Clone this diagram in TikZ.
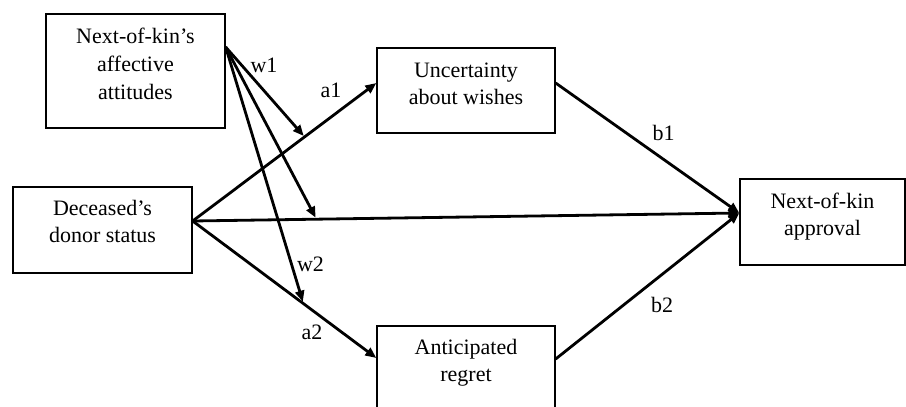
\documentclass[tikz,border=0pt]{standalone}
\usepackage{fontspec}
\setmainfont{Liberation Serif}
\usetikzlibrary{arrows.meta,calc}
\begin{document}
\begin{tikzpicture}[x=1pt,y=-1pt,
  box/.style={draw,line width=1.3pt,inner sep=0pt},
  txt/.style={font=\fontsize{22}{27}\selectfont,align=center,inner sep=0pt,anchor=north},
  lbl/.style={font=\fontsize{22}{27}\selectfont,inner sep=0pt,anchor=base},
  arr/.style={line width=2.8pt,-{Triangle[length=11pt,width=9pt]}}
]
\useasboundingbox (0,0) rectangle (906,407);
\clip (0,0) rectangle (906,407);
% boxes
\node[box,minimum width=179pt,minimum height=114pt] (att) at (135.5,71) {};
\node[box,minimum width=179pt,minimum height=86pt] (don) at (102.5,230) {};
\node[box,minimum width=178pt,minimum height=85pt] (unc) at (466,90.5) {};
\node[box,minimum width=178pt,minimum height=86pt] (reg) at (466,369) {};
\node[box,minimum width=165pt,minimum height=86pt] (app) at (822.5,222) {};
% texts
\node[txt,font=\fontsize{22}{28}\selectfont] (atttxt) at ($(att.north)+(0,14)$) {Next-of-kin’s\\affective\\attitudes};
\node[txt] (dontxt) at ($(don.north)+(0,14)$) {Deceased’s\\donor status};
\node[txt] (unctxt) at ($(unc.north)+(0,15)$) {Uncertainty\\about wishes};
\node[txt] (regtxt) at ($(reg.north)+(0,14)$) {Anticipated\\regret};
\node[txt] (apptxt) at ($(app.north)+(0,14)$) {Next-of-kin\\approval};
% anchor points
\coordinate (attout) at ($(att.east)+(0,-24)$);
\coordinate (donout) at ($(don.east)+(0,-9)$);
\coordinate (uncin) at ($(unc.west)+(0,-7.5)$);
\coordinate (uncout) at ($(unc.east)+(0,-7.5)$);
\coordinate (regin) at ($(reg.west)+(0,-11)$);
\coordinate (regout) at ($(reg.east)+(0,-10)$);
\coordinate (appin) at ($(app.west)+(0,-9)$);
% main paths
\draw[arr] (donout) -- (uncin);
\draw[arr] (donout) -- (appin);
\draw[arr] (donout) -- (regin);
\draw[arr] (uncout) -- (appin);
\draw[arr] (regout) -- (appin);
% moderation
\coordinate (m1) at ($(donout)!0.605!(uncin)+(0,-1.5)$);
\coordinate (m2) at ($(donout)!0.225!(appin)+(0,-1.5)$);
\coordinate (m3) at ($(donout)!0.6!(regin)+(0,-1.5)$);
\draw[arr] (attout) -- (m1);
\draw[arr] (attout) -- (m2);
\draw[arr] (attout) -- (m3);
% labels
\node[lbl] (w1) at (264,72) {w1};
\node[lbl] (a1) at (331,97) {a1};
\node[lbl] (w2) at (310.5,271) {w2};
\node[lbl] (a2) at (312,339) {a2};
\node[lbl] (b1) at (663.5,140) {b1};
\node[lbl] (b2) at (662,312) {b2};
\end{tikzpicture}
\end{document}
